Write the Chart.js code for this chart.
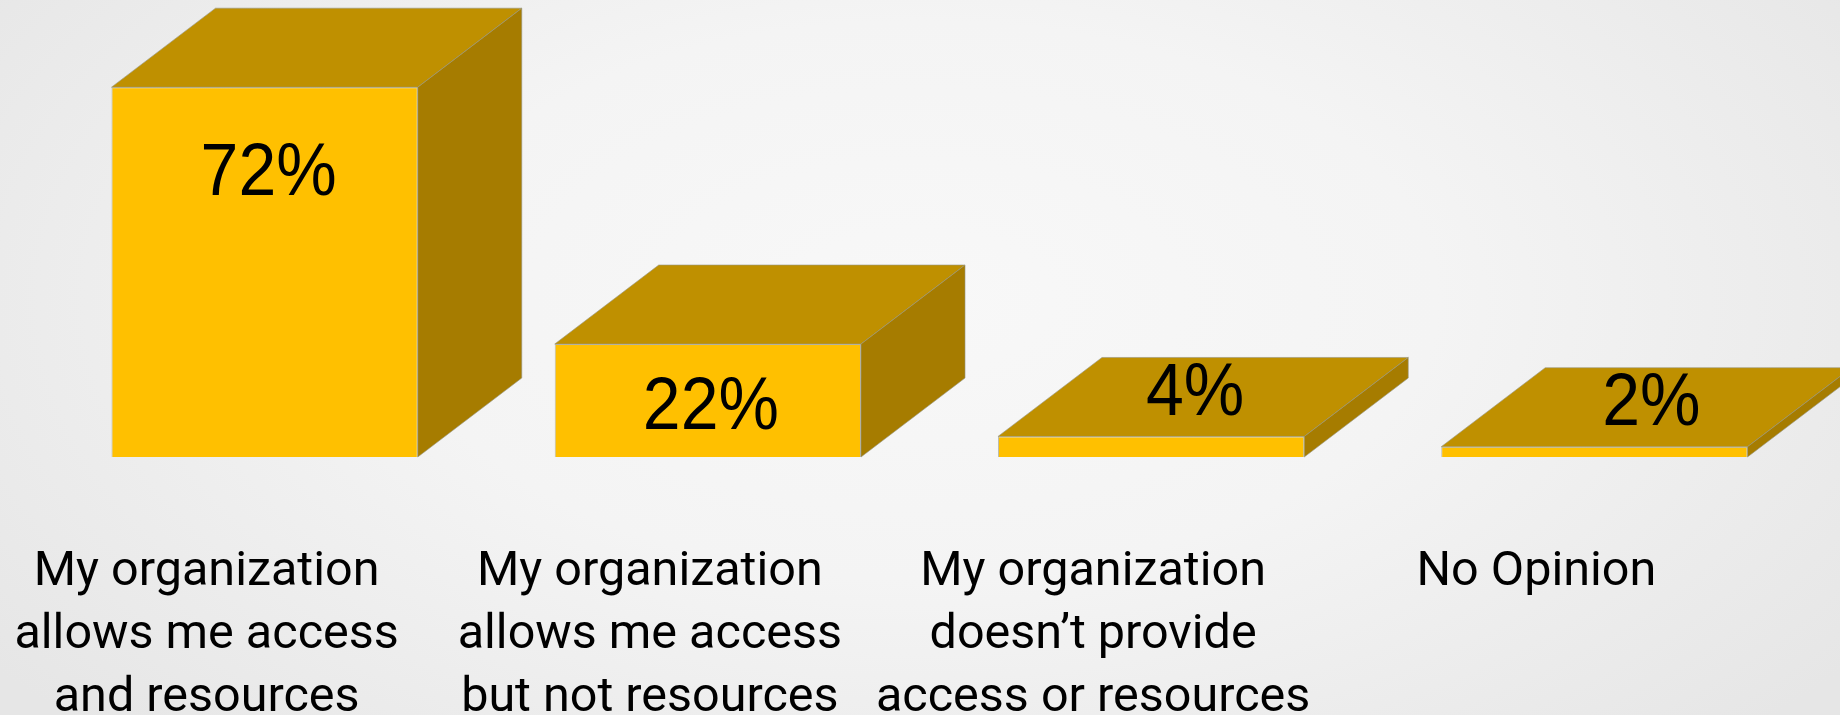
<!DOCTYPE html>
<html>
<head>
<meta charset="utf-8">
<script src="https://cdn.jsdelivr.net/npm/chart.js@4"></script>
<style>
  html, body { margin: 0; padding: 0; }
  body {
    width: 1840px;
    height: 715px;
    overflow: hidden;
    background: radial-gradient(ellipse 1150px 620px at 50% 42%, #f8f8f8 0%, #f4f4f4 45%, #e6e6e6 100%);
  }
  canvas { display: block; }
</style>
</head>
<body>
<canvas id="chart" width="1840" height="715"></canvas>
<script>
const categories = [
  ["My organization", "allows me access", "and resources"],
  ["My organization", "allows me access", "but not resources"],
  ["My organization", "doesn’t provide", "access or resources"],
  "No Opinion",
]
const percentValues = [72, 22, 4, 2]

const frontColor = "#FFC000"
const topColor = "#BF9000"
const sideColor = "#A67C00"
const edgeColor = "rgba(150, 150, 130, 0.6)"
const depthX = 104
const depthY = 79
// where each percent label sits, measured from bar centre and bar top
const labelNudge = [[4, 87], [3, 64], [44, -42], [57, -42]]

const boxFaces = {
  id: "boxFaces",
  afterDatasetsDraw(chart) {
    const ctx = chart.ctx
    chart.getDatasetMeta(0).data.forEach((bar, i) => {
      const half = bar.width / 2
      const left = bar.x - half
      const right = bar.x + half
      const top = bar.y
      const bottom = bar.base

      ctx.save()
      ctx.strokeStyle = edgeColor
      ctx.lineWidth = 1
      ctx.fillStyle = topColor
      ctx.beginPath()
      ctx.moveTo(left, top)
      ctx.lineTo(left + depthX, top - depthY)
      ctx.lineTo(right + depthX, top - depthY)
      ctx.lineTo(right, top)
      ctx.closePath()
      ctx.fill()
      ctx.stroke()

      ctx.fillStyle = sideColor
      ctx.beginPath()
      ctx.moveTo(right, top)
      ctx.lineTo(right + depthX, top - depthY)
      ctx.lineTo(right + depthX, bottom - depthY)
      ctx.lineTo(right, bottom)
      ctx.closePath()
      ctx.fill()
      ctx.stroke()

      // the source text is a bit taller than it is wide
      ctx.translate(bar.x + labelNudge[i][0], top + labelNudge[i][1])
      ctx.scale(1, 1.1)
      ctx.fillStyle = "#000"
      ctx.font = '68px "Liberation Sans"'
      ctx.textAlign = "center"
      ctx.textBaseline = "middle"
      ctx.fillText(percentValues[i] + "%", 0, 0)
      ctx.restore()
    })
  },
}

new Chart(document.getElementById("chart"), {
  type: "bar",
  plugins: [boxFaces],
  data: {
    labels: categories,
    datasets: [
      {
        data: percentValues,
        backgroundColor: frontColor,
        borderColor: edgeColor,
        borderWidth: 1,
        barPercentage: 0.691,
        categoryPercentage: 1,
      },
    ],
  },
  options: {
    responsive: false,
    animation: false,
    layout: { padding: { left: 43, right: 24, top: 5, bottom: 0 } },
    plugins: {
      legend: { display: false },
      tooltip: { enabled: false },
    },
    scales: {
      y: { display: false, min: 0, max: 88 },
      x: {
        grid: { display: false },
        border: { display: false },
        afterFit(scale) {
          scale.height = 258
          // big tick padding would otherwise push the plot inwards
          scale.paddingLeft = 0
          scale.paddingRight = 0
        },
        ticks: {
          autoSkip: false,
          maxRotation: 0,
          minRotation: 0,
          padding: 76,
          labelOffset: -58,
          color: "#000",
          font: { family: "Roboto", size: 48.5, lineHeight: 1.3 },
        },
      },
    },
  },
})
</script>
</body>
</html>
